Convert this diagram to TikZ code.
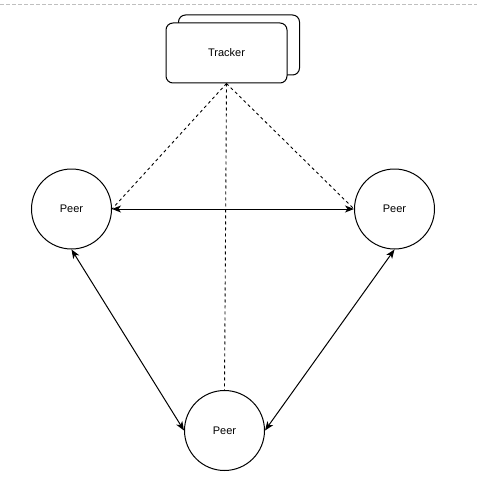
\documentclass[tikz,border=0pt]{standalone}
\usepackage{fontspec}
\setmainfont{Liberation Sans}
\usetikzlibrary{arrows.meta}
\begin{document}
\begin{tikzpicture}[x=1pt,y=-1pt,
  peer/.style={draw,circle,line width=1pt,minimum size=80pt,inner sep=0pt,font=\fontsize{11}{13}\selectfont},
  card/.style={draw,rounded corners=7pt,line width=1pt,fill=white,minimum width=121pt,minimum height=60pt,inner sep=0pt,font=\fontsize{11}{13}\selectfont},
  link/.style={line width=1pt,{Stealth[length=9pt,width=7pt,inset=2.5pt]}-{Stealth[length=9pt,width=7pt,inset=2.5pt]}},
  dashlink/.style={line width=0.9pt,dash pattern=on 3pt off 3pt}]
\useasboundingbox (0,0) rectangle (478,492);
\draw[gray!50,line width=1pt,dash pattern=on 4pt off 2pt] (0,4.5) coordinate (l0) -- (477,4.5) coordinate (r0);
\node[card] (back) at (239,45) {};
\node[card] (tracker) at (226.5,53) {Tracker};
\node[peer] (pl) at (71.5,209) {Peer};
\node[peer] (pr) at (394.5,209) {Peer};
\node[peer] (pb) at (224.5,430.5) {Peer};
\draw[dashlink] (tracker.south) -- (pl.east);
\draw[dashlink] (tracker.south) -- (pr.west);
\draw[dashlink] (tracker.south) -- (pb.north);
\draw[link] (pl.east) -- (pr.west);
\draw[link] (pl.south) -- (pb.west);
\draw[link] (pr.south) -- (pb.east);
\end{tikzpicture}
\end{document}
